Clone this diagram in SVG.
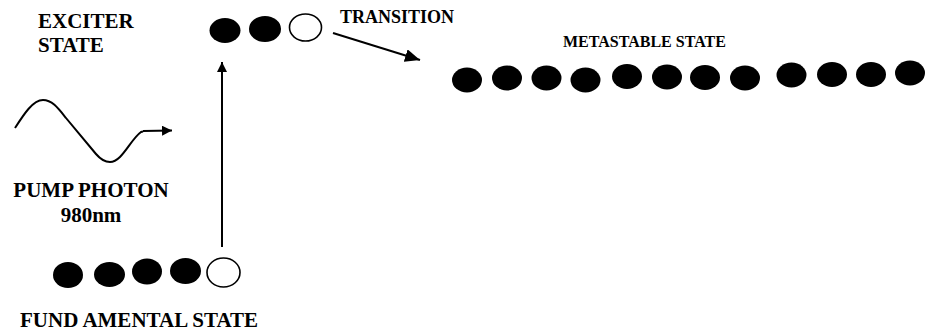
<svg xmlns="http://www.w3.org/2000/svg" width="932" height="335" viewBox="0 0 932 335">
  <style>
    .full { fill: #000; }
    .empty { fill: #fff; stroke: #000; stroke-width: 1.6; }
    .wire { fill: none; stroke: #000; stroke-width: 2; }
  </style>
  <defs>
    <marker id="head" viewBox="0 0 10 10" refX="10" refY="5" markerWidth="7.5" markerHeight="6.5" markerUnits="strokeWidth" orient="auto" preserveAspectRatio="none">
      <path d="M0,0 L10,5 L0,10 z" fill="#000"/>
    </marker>
    <marker id="headUp" viewBox="0 0 10 10" refX="10" refY="5" markerWidth="5" markerHeight="5" markerUnits="strokeWidth" orient="auto">
      <path d="M0,0 L10,5 L0,10 z" fill="#000"/>
    </marker>
    <marker id="headSmall" viewBox="0 0 10 10" refX="10" refY="5" markerWidth="5" markerHeight="5" markerUnits="strokeWidth" orient="auto">
      <path d="M0,0 L10,5 L0,10 z" fill="#000"/>
    </marker>
  </defs>

  <rect width="932" height="335" fill="#fff"/>

  <!-- all labels: bold Times-metric serif -->
  <g font-family="Liberation Serif, Times New Roman, serif" font-weight="bold" fill="#000">

  <!-- excited level -->
  <g id="excited-state">
    <text x="38" y="28" font-size="21">EXCITER</text>
    <text x="38" y="52" font-size="21">STATE</text>
    <ellipse class="full" cx="225" cy="30.5" rx="15.5" ry="12.5"/>
    <ellipse class="full" cx="265" cy="29" rx="16" ry="13"/>
    <ellipse class="empty" cx="305.5" cy="27.5" rx="16" ry="13.5"/>
  </g>

  <!-- metastable level -->
  <g id="metastable-state">
    <text x="563" y="47" font-size="16">METASTABLE STATE</text>
    <ellipse class="full" cx="467" cy="80" rx="15" ry="12.5"/>
    <ellipse class="full" cx="507" cy="78" rx="15" ry="12.5"/>
    <ellipse class="full" cx="546.5" cy="78" rx="15" ry="12.5"/>
    <ellipse class="full" cx="585.5" cy="80" rx="15" ry="12.5"/>
    <ellipse class="full" cx="627" cy="76.5" rx="15" ry="12.5"/>
    <ellipse class="full" cx="667" cy="77" rx="15" ry="12.5"/>
    <ellipse class="full" cx="705" cy="77.5" rx="15" ry="12.5"/>
    <ellipse class="full" cx="745" cy="78" rx="15" ry="12.5"/>
    <ellipse class="full" cx="791.5" cy="75" rx="15" ry="12.5"/>
    <ellipse class="full" cx="832" cy="74.5" rx="15" ry="12.5"/>
    <ellipse class="full" cx="871" cy="74.5" rx="15" ry="12.5"/>
    <ellipse class="full" cx="910" cy="73" rx="15" ry="12.5"/>
  </g>

  <!-- ground level -->
  <g id="fundamental-state">
    <ellipse class="full" cx="68" cy="275" rx="15" ry="13"/>
    <ellipse class="full" cx="109.5" cy="274.5" rx="15.5" ry="12.5"/>
    <ellipse class="full" cx="147" cy="271.5" rx="15" ry="13"/>
    <ellipse class="full" cx="185.5" cy="271" rx="15.5" ry="13"/>
    <ellipse class="empty" cx="223.5" cy="272.5" rx="16.5" ry="14.5"/>
    <text x="139" y="327" font-size="21" text-anchor="middle">FUND AMENTAL STATE</text>
  </g>

  <!-- pump photon -->
  <g id="pump-photon">
    <text x="91" y="197" font-size="21" text-anchor="middle">PUMP PHOTON</text>
    <text x="91" y="222" font-size="21" text-anchor="middle">980nm</text>
  </g>

  <!-- connectors -->
  <g id="connectors">
    <path class="wire" d="M15,128 C24,114 33,100 43,100 C52,100 58,108 66,118 L96,154 C102,161 106,162 110,162 C122,162 130,140 141,132 L143,131.5" stroke-width="1.8"/>
    <path class="wire" d="M143,131 L172,130.5" stroke-width="3" marker-end="url(#headSmall)"/>
    <line class="wire" x1="222" y1="247" x2="222" y2="62" marker-end="url(#headUp)"/>
    <line class="wire" x1="333" y1="33" x2="420" y2="60" marker-end="url(#head)"/>
    <text x="340" y="23" font-size="18">TRANSITION</text>
  </g>

  </g>
</svg>
